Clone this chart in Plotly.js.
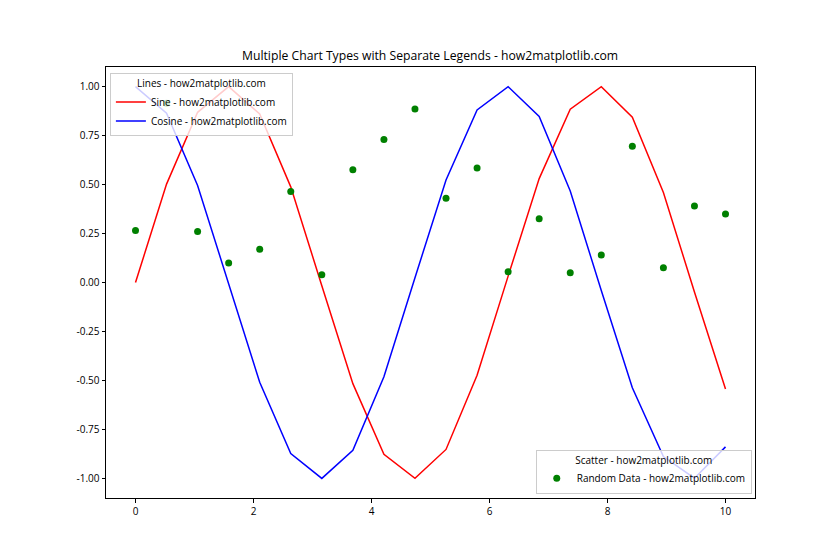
<!DOCTYPE html>
<html>
<head>
<meta charset="utf-8">
<script src="https://cdn.plot.ly/plotly-3.0.1.min.js"></script>
<style>html,body{margin:0;padding:0;background:#fff;}</style>
</head>
<body>
<div id="chart" style="width:840px;height:560px;"></div>
<script>
const xValues = [0, 0.5263, 1.0526, 1.5789, 2.1053, 2.6316, 3.1579, 3.6842, 4.2105, 4.7368,
                 5.2632, 5.7895, 6.3158, 6.8421, 7.3684, 7.8947, 8.4211, 8.9474, 9.4737, 10];
const sineValues = [0, 0.5023, 0.8687, 1.0000, 0.8606, 0.4882, -0.0163, -0.5164, -0.8767, -0.9997,
                    -0.8521, -0.4739, 0.0326, 0.5303, 0.8844, 0.9992, 0.8435, 0.4597, -0.0489, -0.5440];
const cosineValues = [1, 0.8647, 0.4953, -0.0081, -0.5093, -0.8727, -0.9999, -0.8564, -0.4810, 0.0244,
                      0.5234, 0.8806, 0.9995, 0.8478, 0.4668, -0.0407, -0.5372, -0.8881, -0.9988, -0.8391];
const scatterValues = [0.265, 0.915, 0.26, 0.10, 0.17, 0.465, 0.04, 0.575, 0.73, 0.885,
                       0.43, 0.585, 0.055, 0.325, 0.05, 0.14, 0.695, 0.075, 0.39, 0.35];
const xTicks = [0, 2, 4, 6, 8, 10];
const yTicks = [-1, -0.75, -0.5, -0.25, 0, 0.25, 0.5, 0.75, 1];
const yTickLabels = ['-1.00', '-0.75', '-0.50', '-0.25', '0.00', '0.25', '0.50', '0.75', '1.00'];

const FONT = 'Open Sans, Noto Sans, sans-serif';

const traces = [
  {x: xValues, y: sineValues, type: 'scatter', mode: 'lines', name: 'Sine - how2matplotlib.com',
   line: {color: '#ff0000', width: 1.5}, legend: 'legend'},
  {x: xValues, y: cosineValues, type: 'scatter', mode: 'lines', name: 'Cosine - how2matplotlib.com',
   line: {color: '#0000ff', width: 1.5}, legend: 'legend'},
  {x: xValues, y: scatterValues, type: 'scatter', mode: 'markers', name: 'Random Data - how2matplotlib.com',
   marker: {color: '#008000', size: 7}, legend: 'legend2'}
];

const axisCommon = {
  showgrid: false, zeroline: false, showline: true, mirror: true,
  linecolor: '#000', linewidth: 1, ticks: 'outside', ticklen: 3.5, tickwidth: 1, tickcolor: '#000',
  tickfont: {family: FONT, size: 10, color: '#000'}
};

const layout = {
  width: 840, height: 560,
  margin: {l: 106, r: 85, t: 67, b: 62},
  paper_bgcolor: '#fff', plot_bgcolor: '#fff',
  font: {family: FONT, color: '#000'},
  title: {text: 'Multiple Chart Types with Separate Legends - how2matplotlib.com',
          font: {family: FONT, size: 12.2, color: '#000'}, x: 0.512, xanchor: 'center', y: 1 - 56/560, yanchor: 'middle'},
  xaxis: Object.assign({}, axisCommon, {range: [-0.5, 10.5], tickvals: xTicks}),
  yaxis: Object.assign({}, axisCommon, {range: [-1.1, 1.1], tickvals: yTicks, ticktext: yTickLabels}),
  showlegend: true,
  legend: {
    x: 0.006, y: 0.985, xanchor: 'left', yanchor: 'top',
    bgcolor: 'rgba(255,255,255,0.8)', bordercolor: '#cccccc', borderwidth: 1,
    font: {family: FONT, size: 10, color: '#000'},
    title: {text: 'Lines - how2matplotlib.com', side: 'top center', font: {family: FONT, size: 10, color: '#000'}},
    tracegroupgap: 0, itemwidth: 30
  },
  legend2: {
    x: 0.995, y: 0.01, xanchor: 'right', yanchor: 'bottom',
    bgcolor: 'rgba(255,255,255,0.8)', bordercolor: '#cccccc', borderwidth: 1,
    font: {family: FONT, size: 10, color: '#000'},
    title: {text: 'Scatter - how2matplotlib.com', side: 'top center', font: {family: FONT, size: 10, color: '#000'}},
    itemwidth: 30
  }
};

Plotly.newPlot('chart', traces, layout, {displayModeBar: false, staticPlot: true});
</script>
</body>
</html>
